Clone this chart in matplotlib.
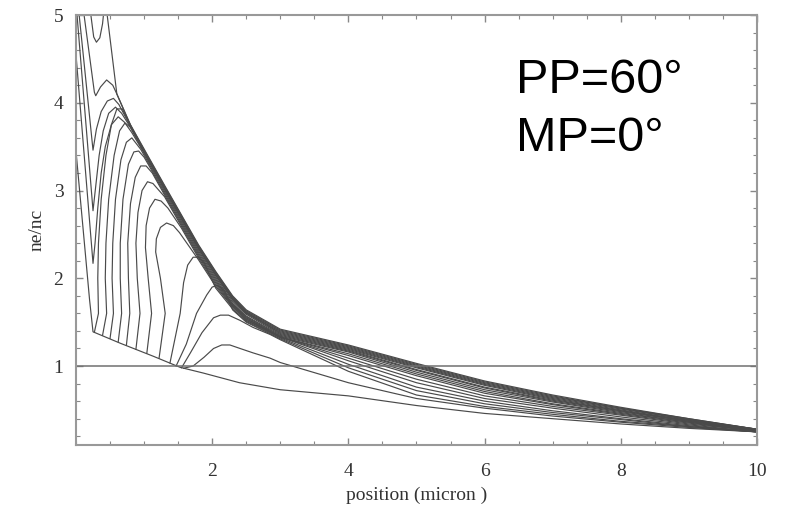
import matplotlib
matplotlib.use("Agg")
import matplotlib.pyplot as plt
from matplotlib.ticker import MultipleLocator

# ---------------- data ----------------
tail_x = [3, 4, 5, 6, 7, 8, 9, 10]

base_head = [(0.0, 3.45), (0.1, 2.6), (0.2, 1.75), (0.25, 1.39), (0.65, 1.26), (1.14, 1.11),
             (1.53, 0.985), (1.87, 0.92), (2.4, 0.81)]
base_tail = [0.73, 0.66, 0.55, 0.46, 0.40, 0.34, 0.29, 0.25]

env_head = [(0.45, 5.05), (0.6, 4.1), (0.8, 3.75), (1.06, 3.39), (1.3, 3.06), (1.55, 2.72),
            (1.8, 2.38), (2.05, 2.08), (2.3, 1.80), (2.5, 1.64)]
env_tail = [1.42, 1.24, 1.03, 0.83, 0.67, 0.53, 0.40, 0.28]

v1_head = [(0.21, 5.05), (0.26, 4.75), (0.30, 4.69), (0.35, 4.74), (0.39, 4.9), (0.41, 5.05)]
v1_tail = []

v2_head = [(0.11, 5.05), (0.27, 4.12), (0.29, 4.08), (0.36, 4.18), (0.45, 4.26), (0.54, 4.2),
           (0.60, 4.1), (0.8, 3.74), (1.06, 3.38), (1.3, 3.05), (1.55, 2.71), (1.8, 2.37),
           (2.05, 2.07), (2.3, 1.79), (2.5, 1.63)]
v2_tail = [1.41, 1.23, 1.02, 0.82, 0.66, 0.52, 0.40, 0.28]

v3_head = [(0.04, 5.05), (0.25, 3.46), (0.30, 3.7), (0.37, 3.9), (0.46, 4.02), (0.55, 4.05),
           (0.63, 3.98), (0.8, 3.73), (1.06, 3.37), (1.3, 3.04), (1.55, 2.70), (1.8, 2.36),
           (2.05, 2.06), (2.3, 1.78), (2.5, 1.62)]
v3_tail = [1.40, 1.22, 1.01, 0.81, 0.65, 0.52, 0.39, 0.28]

v4_head = [(0.01, 5.05), (0.25, 2.77), (0.29, 3.05), (0.34, 3.4), (0.40, 3.68), (0.48, 3.88),
           (0.58, 3.95), (0.67, 3.88), (0.8, 3.72), (1.06, 3.36), (1.3, 3.03), (1.55, 2.69),
           (1.8, 2.35), (2.05, 2.05), (2.3, 1.77), (2.5, 1.61)]
v4_tail = [1.39, 1.21, 1.00, 0.80, 0.64, 0.51, 0.39, 0.28]

v5_head = [(0.0, 4.55), (0.25, 2.17), (0.28, 2.4), (0.32, 2.8), (0.37, 3.2), (0.43, 3.5),
           (0.52, 3.75), (0.62, 3.84), (0.71, 3.78), (0.82, 3.66), (1.06, 3.35), (1.3, 3.02),
           (1.55, 2.68), (1.8, 2.34), (2.05, 2.04), (2.3, 1.76), (2.5, 1.60)]
v5_tail = [1.38, 1.20, 0.99, 0.79, 0.63, 0.50, 0.38, 0.27]

r1_head = [(0.27, 1.385), (0.33, 1.6), (0.32, 2.0), (0.33, 2.4), (0.37, 2.9), (0.44, 3.4),
           (0.52, 3.75), (0.60, 3.93), (0.68, 3.93), (0.75, 3.82), (1.06, 3.36), (1.3, 3.03),
           (1.55, 2.69), (1.8, 2.35), (2.05, 2.05), (2.3, 1.77), (2.5, 1.61)]
r1_tail = [1.37, 1.19, 0.98, 0.78, 0.62, 0.49, 0.38, 0.27]

r2_head = [(0.39, 1.35), (0.45, 1.6), (0.43, 2.0), (0.44, 2.4), (0.48, 2.9), (0.56, 3.4),
           (0.64, 3.68), (0.72, 3.77), (0.80, 3.72), (0.87, 3.62), (1.06, 3.34), (1.3, 3.01),
           (1.55, 2.67), (1.8, 2.33), (2.05, 2.03), (2.3, 1.75), (2.5, 1.59)]
r2_tail = [1.36, 1.18, 0.96, 0.76, 0.61, 0.49, 0.37, 0.27]

r3_head = [(0.50, 1.315), (0.55, 1.6), (0.53, 2.0), (0.54, 2.4), (0.58, 2.9), (0.66, 3.35),
           (0.74, 3.55), (0.82, 3.6), (0.88, 3.54), (0.95, 3.47), (1.06, 3.32), (1.3, 2.99),
           (1.55, 2.65), (1.8, 2.31), (2.05, 2.01), (2.3, 1.73), (2.5, 1.57)]
r3_tail = [1.35, 1.17, 0.95, 0.75, 0.60, 0.48, 0.37, 0.27]

r4_head = [(0.62, 1.275), (0.67, 1.6), (0.65, 2.0), (0.65, 2.4), (0.69, 2.9), (0.77, 3.3),
           (0.85, 3.44), (0.92, 3.45), (1.0, 3.38), (1.06, 3.30), (1.3, 2.97), (1.55, 2.63),
           (1.8, 2.29), (2.05, 1.99), (2.3, 1.71), (2.5, 1.56)]
r4_tail = [1.34, 1.16, 0.93, 0.73, 0.59, 0.47, 0.36, 0.26]

r5_head = [(0.74, 1.235), (0.79, 1.6), (0.77, 2.0), (0.76, 2.4), (0.80, 2.85), (0.87, 3.15),
           (0.95, 3.28), (1.03, 3.28), (1.12, 3.2), (1.3, 2.95), (1.55, 2.61), (1.8, 2.27),
           (2.05, 1.97), (2.3, 1.70), (2.5, 1.55)]
r5_tail = [1.33, 1.14, 0.91, 0.71, 0.57, 0.46, 0.36, 0.26]

r6_head = [(0.88, 1.19), (0.94, 1.6), (0.90, 2.0), (0.88, 2.4), (0.91, 2.75), (0.97, 3.0),
           (1.05, 3.1), (1.13, 3.08), (1.22, 3.0), (1.3, 2.93), (1.55, 2.59), (1.8, 2.25),
           (2.05, 1.95), (2.3, 1.69), (2.5, 1.54)]
r6_tail = [1.33, 1.12, 0.89, 0.69, 0.56, 0.45, 0.35, 0.26]

r7_head = [(1.04, 1.145), (1.11, 1.6), (1.06, 2.0), (1.02, 2.35), (1.03, 2.6), (1.08, 2.8),
           (1.16, 2.9), (1.25, 2.88), (1.35, 2.8), (1.55, 2.57), (1.8, 2.23), (2.05, 1.93),
           (2.3, 1.68), (2.5, 1.53)]
r7_tail = [1.33, 1.09, 0.85, 0.66, 0.54, 0.44, 0.34, 0.26]

r8_head = [(1.22, 1.09), (1.31, 1.6), (1.24, 2.0), (1.17, 2.3), (1.18, 2.45), (1.24, 2.58),
           (1.33, 2.63), (1.43, 2.6), (1.52, 2.52), (1.8, 2.21), (2.05, 1.91), (2.3, 1.67),
           (2.5, 1.52)]
r8_tail = [1.33, 1.06, 0.81, 0.63, 0.52, 0.42, 0.33, 0.25]

r9_head = [(1.38, 1.035), (1.53, 1.6), (1.58, 1.95), (1.64, 2.15), (1.72, 2.24), (1.80, 2.24),
           (1.88, 2.18), (2.05, 1.89), (2.3, 1.65), (2.5, 1.51)]
r9_tail = [1.32, 1.02, 0.76, 0.60, 0.49, 0.40, 0.32, 0.25]

r10_head = [(1.47, 1.0), (1.62, 1.25), (1.77, 1.6), (1.92, 1.81), (2.0, 1.9), (2.08, 1.92),
            (2.18, 1.86), (2.3, 1.64), (2.5, 1.50)]
r10_tail = [1.31, 0.98, 0.72, 0.57, 0.47, 0.39, 0.31, 0.25]

sh_head = [(1.55, 0.98), (1.68, 1.15), (1.85, 1.38), (2.02, 1.55), (2.12, 1.58), (2.24, 1.58),
           (2.41, 1.52), (2.6, 1.44), (2.85, 1.36)]
sh_tail = [1.30, 0.94, 0.67, 0.54, 0.45, 0.37, 0.31, 0.25]

bump_head = [(1.58, 0.975), (1.72, 1.0), (1.88, 1.1), (2.02, 1.2), (2.14, 1.24), (2.26, 1.24),
             (2.41, 1.20), (2.6, 1.15), (2.85, 1.09)]
bump_tail = [1.04, 0.81, 0.63, 0.52, 0.43, 0.36, 0.30, 0.25]

critical_level = 1.0

x_ticks = [2, 4, 6, 8, 10]
y_ticks = [1, 2, 3, 4, 5]
annotation_lines = ["PP=60\u00b0", "MP=0\u00b0"]

curves = [
    (base_head, base_tail), (env_head, env_tail), (v1_head, v1_tail), (v2_head, v2_tail),
    (v3_head, v3_tail), (v4_head, v4_tail), (v5_head, v5_tail), (r1_head, r1_tail),
    (r2_head, r2_tail), (r3_head, r3_tail), (r4_head, r4_tail), (r5_head, r5_tail),
    (r6_head, r6_tail), (r7_head, r7_tail), (r8_head, r8_tail), (r9_head, r9_tail),
    (r10_head, r10_tail), (sh_head, sh_tail), (bump_head, bump_tail),
]

# ---------------- figure ----------------
fig = plt.figure(figsize=(7.85, 5.14), dpi=100)
ax = fig.add_axes([0.0968, 0.1342, 0.8675, 0.8366])

line_color = "#4a4a4a"
for head, tail in curves:
    xs = [p[0] for p in head] + (tail_x if tail else [])
    ys = [p[1] for p in head] + list(tail)
    ax.plot(xs, ys, color=line_color, lw=0.85, solid_joinstyle="round")

ax.axhline(critical_level, color="#707070", lw=1.1)

ax.set_xlim(0, 10)
ax.set_ylim(0.1, 5.0)
ax.set_xticks(x_ticks)
ax.set_yticks(y_ticks)
ax.xaxis.set_minor_locator(MultipleLocator(0.5))
ax.yaxis.set_minor_locator(MultipleLocator(0.2))

serif = "Liberation Serif"
ax.tick_params(which="both", direction="in", top=True, right=True, color="#888888")
ax.tick_params(which="major", length=5, width=1.0, labelsize=14)
ax.tick_params(axis="x", which="major", pad=13)
ax.tick_params(axis="y", which="major", pad=9)
ax.tick_params(which="minor", length=3, width=0.8)
for lab in ax.get_xticklabels() + ax.get_yticklabels():
    lab.set_fontfamily(serif)
    lab.set_color("#333333")
for sp in ax.spines.values():
    sp.set_color("#999999")
    sp.set_linewidth(1.5)

ax.set_xlabel("position (micron )", fontfamily=serif, fontsize=14, color="#333333", labelpad=5)
ax.set_ylabel("ne/nc", fontfamily=serif, fontsize=14, color="#333333", labelpad=6)

ax.text(516 / 785, 1 - 93 / 514, annotation_lines[0], transform=fig.transFigure,
        fontfamily="Liberation Sans", fontsize=35, color="black", va="baseline")
ax.text(516 / 785, 1 - 151 / 514, annotation_lines[1], transform=fig.transFigure,
        fontfamily="Liberation Sans", fontsize=35, color="black", va="baseline")

fig.savefig("out.png", dpi=100)
